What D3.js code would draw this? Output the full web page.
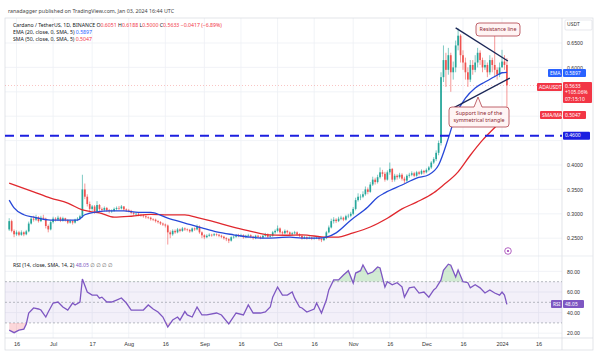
<!DOCTYPE html>
<html>
<head>
<meta charset="utf-8">
<script src="https://cdn.jsdelivr.net/npm/d3@7"></script>
<style>
  body { margin: 0; background: #fff; }
  svg { display: block; font-family: "Noto Sans", "DejaVu Sans", sans-serif; }
</style>
</head>
<body>
<div id="chart"></div>
<script>
// ADA/USDT daily, 2023-06-13 .. 2024-01-03 (open = previous close)
const startDate = "2023-06-13";
const firstOpen = 0.268;
const closes = [
  .285,.265,.258,.262,.257,.262,.258,.264,.280,.290,
  .288,.293,.285,.292,.290,.275,.268,.283,.290,.288,
  .292,.286,.291,.287,.282,.285,.282,.288,.290,.295,
  .350,.335,.320,.310,.315,.305,.318,.310,.308,.312,
  .307,.305,.306,.310,.312,.311,.315,.309,.307,.306,
  .302,.300,.300,.298,.297,.295,.293,.292,.289,.288,
  .285,.283,.280,.278,.276,.262,.258,.265,.262,.268,
  .265,.270,.268,.267,.264,.270,.268,.274,.262,.256,
  .252,.255,.257,.256,.258,.257,.255,.253,.250,.248,
  .245,.252,.253,.256,.255,.256,.252,.255,.256,.253,
  .250,.255,.253,.251,.255,.258,.253,.255,.262,.265,
  .270,.262,.260,.265,.262,.258,.260,.262,.258,.255,
  .250,.252,.250,.251,.249,.250,.251,.248,.246,.250,
  .262,.272,.285,.288,.285,.290,.292,.288,.295,.296,
  .300,.310,.328,.335,.335,.340,.350,.345,.360,.370,
  .365,.375,.385,.382,.370,.385,.392,.370,.378,.375,
  .380,.372,.368,.378,.380,.383,.378,.385,.382,.388,
  .385,.390,.395,.405,.412,.425,.445,.580,.615,.595,
  .625,.590,.600,.645,.665,.625,.610,.590,.575,.605,
  .595,.610,.630,.615,.600,.605,.590,.615,.605,.595,
  .585,.600,.612,.6051,.5633
];
const highs = [
  .291,.288,.268,.266,.265,.266,.264,.267,.284,.295,
  .296,.298,.295,.296,.298,.292,.278,.286,.294,.293,
  .296,.294,.294,.292,.289,.288,.287,.290,.293,.298,
  .380,.362,.340,.325,.318,.318,.326,.320,.313,.315,
  .314,.310,.309,.313,.315,.316,.318,.316,.311,.310,
  .308,.304,.303,.302,.300,.299,.297,.295,.294,.291,
  .290,.287,.285,.282,.280,.278,.266,.268,.268,.271,
  .270,.273,.272,.270,.269,.272,.272,.278,.276,.264,
  .258,.258,.260,.259,.261,.260,.259,.257,.255,.252,
  .250,.254,.256,.258,.259,.259,.258,.257,.259,.258,
  .255,.257,.257,.255,.257,.261,.260,.258,.265,.268,
  .276,.272,.265,.268,.267,.264,.263,.265,.264,.260,
  .257,.255,.254,.254,.253,.253,.254,.253,.250,.253,
  .265,.276,.290,.293,.291,.294,.296,.294,.298,.300,
  .304,.314,.333,.342,.340,.346,.356,.354,.365,.376,
  .374,.380,.395,.390,.386,.389,.405,.394,.382,.381,
  .384,.383,.376,.381,.384,.387,.386,.388,.388,.391,
  .390,.393,.398,.408,.416,.430,.450,.590,.645,.630,
  .640,.630,.612,.655,.680,.668,.635,.620,.600,.615,
  .615,.625,.640,.635,.620,.615,.610,.625,.620,.665,
  .600,.610,.636,.625,.6188
];
const lows = [
  .265,.262,.252,.255,.254,.255,.254,.256,.262,.278,
  .284,.285,.282,.283,.287,.270,.262,.266,.280,.284,
  .285,.283,.284,.284,.279,.280,.278,.280,.285,.288,
  .292,.330,.315,.305,.306,.300,.303,.306,.303,.305,
  .304,.301,.302,.304,.307,.308,.309,.306,.304,.303,
  .299,.296,.297,.295,.294,.292,.290,.289,.286,.285,
  .282,.280,.277,.275,.272,.237,.250,.255,.259,.260,
  .262,.263,.265,.264,.261,.262,.265,.266,.259,.250,
  .248,.250,.253,.253,.254,.254,.252,.250,.247,.244,
  .240,.243,.249,.251,.252,.253,.249,.250,.253,.250,
  .247,.248,.250,.248,.249,.253,.250,.251,.253,.259,
  .262,.259,.257,.258,.259,.255,.256,.258,.255,.252,
  .247,.248,.247,.248,.246,.247,.248,.245,.242,.244,
  .248,.260,.270,.280,.281,.283,.287,.285,.286,.291,
  .293,.297,.307,.325,.328,.332,.337,.340,.343,.357,
  .360,.362,.372,.376,.366,.368,.380,.365,.366,.370,
  .372,.368,.363,.365,.374,.377,.375,.376,.379,.380,
  .381,.383,.387,.392,.402,.408,.420,.440,.570,.560,
  .585,.550,.575,.590,.635,.610,.595,.575,.560,.570,
  .585,.590,.600,.605,.590,.595,.580,.585,.590,.580,
  .575,.580,.600,.595,.500
];

// [day index, value]
const emaPoints = [
  [0,.328],[2,.312],[6,.298],[10,.293],[17,.287],[23,.287],[28,.287],[31,.298],[36,.304],
  [41,.306],[47,.306],[53,.303],[58,.303],[65,.291],[72,.281],[79,.271],[85,.263],[92,.257],
  [99,.252],[106,.250],[115,.252],[120,.250],[127,.250],[130,.252],[134,.261],[140,.287],
  [147,.314],[151,.334],[154,.343],[161,.359],[167,.373],[172,.380],[176,.400],[180,.455],
  [183,.502],[187,.537],[191,.558],[195,.570],[200,.584],[202,.589],[204,.5897]
];
const smaPoints = [
  [0,.363],[10,.345],[17,.332],[24,.322],[30,.308],[34,.304],[37,.302],[43,.293],[50,.295],
  [58,.299],[65,.298],[72,.298],[78,.291],[86,.281],[93,.271],[100,.263],[106,.257],[113,.256],
  [120,.257],[130,.252],[134,.252],[141,.261],[148,.273],[155,.291],[161,.310],[167,.324],
  [174,.343],[178,.359],[184,.386],[189,.420],[194,.451],[200,.482],[204,.5047]
];
const rsiPoints = [
  [0,23],[2,20.5],[4,23],[6,24],[7,29],[8,39.6],[10,44.5],[12,43.5],[13,42.5],[15,35.7],
  [16,40.6],[18,49.3],[20,50.3],[22,45.4],[24,42.5],[26,49.3],[27,47.4],[29,50.3],[30,72.6],
  [32,60],[34,57],[36,57],[37,54],[38,55],[40,50.3],[42,50.3],[44,52.2],[46,54.2],[48,49.3],
  [50,42.5],[53,42.5],[55,42.5],[57,47.4],[59,43.5],[61,40.6],[63,35.7],[65,26],[67,32.8],
  [69,35.7],[70,32.8],[72,41],[73,37.7],[75,35.7],[77,45.4],[79,37.7],[81,37.7],[85,39.6],
  [87,37.7],[90,29],[93,39.6],[96,37.7],[98,47.4],[100,39.6],[103,39.6],[105,40.6],[107,45.4],
  [108,55],[110,64.8],[112,57],[114,57],[116,60],[117,54],[119,45.4],[120,44.5],[122,40.6],
  [125,43.5],[126,49.3],[128,39.6],[130,52.2],[131,62],[133,71.7],[135,71.7],[137,76.5],
  [139,80.7],[141,68.7],[142,78.4],[144,80.7],[145,86.2],[147,77.5],[149,79.4],[151,84.3],
  [152,83.3],[154,64.8],[155,70],[157,67],[159,69],[161,65],[162,55],[164,64],[166,65],
  [168,59],[170,60],[172,55],[174,62],[175,64],[177,71.7],[178,81],[180,87],[181,86],
  [183,74.6],[184,81.4],[186,70],[188,69],[189,64],[191,67],[193,64],[195,59],[197,62],
  [199,59],[201,57],[202,60],[203,57],[204,48.05]
];

const priceTicks = [0.25, 0.30, 0.35, 0.40, 0.45, 0.50, 0.55, 0.60, 0.65];
// labels for 0.45 / 0.50 / 0.55 sit under the price tags, so they are not drawn
const priceLabelTicks = [0.25, 0.30, 0.35, 0.40, 0.60, 0.65];
const rsiTicks = [20, 40, 60, 80];
const timeTicks = ["2023-06-16","2023-07-01","2023-07-17","2023-08-01","2023-08-16","2023-09-01",
  "2023-09-16","2023-10-01","2023-10-16","2023-11-01","2023-11-16","2023-12-01","2023-12-16",
  "2024-01-01","2024-01-16"];
const timeLabels = ["16","Jul","17","Aug","16","Sep","16","Oct","16","Nov","16","Dec","16","2024","16"];

const keyLevel = 0.46;
const resistanceLine = [[183, 0.681], [204.4, 0.613]];
const supportLine = [[180.6, 0.513], [205.2, 0.578]];

const UP = "#26a69a", DOWN = "#ef5350";
const W = 600, H = 354;
const box = {left: 5, right: 562, top: 18, mainBottom: 256, rsiBottom: 338, bottom: 350};

const t0 = new Date(startDate + "T00:00:00Z");
const day = i => new Date(t0.getTime() + i * 864e5);

const candles = closes.map((c, i) => ({
    date: day(i),
    open: i ? closes[i - 1] : firstOpen,
    high: highs[i], low: lows[i], close: c
}));

const svg = d3.select("#chart").append("svg")
    .attr("width", W).attr("height", H);

const x = d3.scaleUtc()
    .domain([day(0), day(closes.length - 1)])
    .range([9.2, 506.9]);
const y = d3.scaleLinear().domain([0.25, 0.65]).range([238.2, 43.0]);
const yR = d3.scaleLinear().domain([20, 80]).range([333.2, 271.4]);

const defs = svg.append("defs");
defs.append("clipPath").attr("id", "clipMain").append("rect")
    .attr("x", box.left).attr("y", box.top)
    .attr("width", box.right - box.left).attr("height", box.mainBottom - box.top);
defs.append("clipPath").attr("id", "clipRsi").append("rect")
    .attr("x", box.left).attr("y", box.mainBottom)
    .attr("width", box.right - box.left).attr("height", box.rsiBottom - box.mainBottom);
defs.append("clipPath").attr("id", "clipOB").append("rect")
    .attr("x", box.left).attr("y", box.mainBottom)
    .attr("width", box.right - box.left).attr("height", yR(70) - box.mainBottom);
defs.append("clipPath").attr("id", "clipOS").append("rect")
    .attr("x", box.left).attr("y", yR(30))
    .attr("width", box.right - box.left).attr("height", box.rsiBottom - yR(30));

// header
svg.append("text")
    .attr("x", 8).attr("y", 13)
    .attr("font-size", 5.3).attr("fill", "#444")
    .text("ranadagger published on TradingView.com, Jan 03, 2024 16:44 UTC");

// grid
const tickDates = timeTicks.map(d => new Date(d + "T00:00:00Z"));
svg.append("g").selectAll("line")
    .data(tickDates).enter().append("line")
    .attr("x1", d => x(d)).attr("x2", d => x(d))
    .attr("y1", box.top).attr("y2", box.rsiBottom)
    .attr("stroke", "#eef0f5").attr("stroke-width", 0.8);
svg.append("g").selectAll("line")
    .data(priceTicks).enter().append("line")
    .attr("x1", box.left).attr("x2", box.right)
    .attr("y1", d => y(d)).attr("y2", d => y(d))
    .attr("stroke", "#eef0f5").attr("stroke-width", 0.8);
svg.append("g").selectAll("line")
    .data(rsiTicks).enter().append("line")
    .attr("x1", box.left).attr("x2", box.right)
    .attr("y1", d => yR(d)).attr("y2", d => yR(d))
    .attr("stroke", "#eef0f5").attr("stroke-width", 0.8);

// frame
svg.append("rect")
    .attr("x", box.left).attr("y", box.top)
    .attr("width", W - 7 - box.left).attr("height", box.bottom - box.top)
    .attr("fill", "none").attr("stroke", "#d6d9e0").attr("stroke-width", 0.7);
svg.append("line").attr("x1", box.right).attr("x2", box.right)
    .attr("y1", box.top).attr("y2", box.bottom)
    .attr("stroke", "#d6d9e0").attr("stroke-width", 0.7);
svg.append("line").attr("x1", box.left).attr("x2", W - 7)
    .attr("y1", box.mainBottom).attr("y2", box.mainBottom)
    .attr("stroke", "#e3e6ec").attr("stroke-width", 0.7);
svg.append("line").attr("x1", box.left).attr("x2", W - 7)
    .attr("y1", box.rsiBottom).attr("y2", box.rsiBottom)
    .attr("stroke", "#d6d9e0").attr("stroke-width", 0.7);

// main pane
const main = svg.append("g").attr("clip-path", "url(#clipMain)");

main.append("line")
    .attr("x1", box.left).attr("x2", box.right)
    .attr("y1", y(0.5633)).attr("y2", y(0.5633))
    .attr("stroke", DOWN).attr("stroke-width", 0.6)
    .attr("stroke-dasharray", "1,2").attr("opacity", 0.7);

const cg = main.append("g");
cg.selectAll(".wick")
    .data(candles).enter().append("line")
    .attr("class", "wick")
    .attr("x1", d => x(d.date)).attr("x2", d => x(d.date))
    .attr("y1", d => y(d.high)).attr("y2", d => y(d.low))
    .attr("stroke", d => d.close >= d.open ? UP : DOWN)
    .attr("stroke-width", 0.6);
cg.selectAll(".body")
    .data(candles).enter().append("rect")
    .attr("class", "body")
    .attr("x", d => x(d.date) - 0.85)
    .attr("width", 1.7)
    .attr("y", d => y(Math.max(d.open, d.close)))
    .attr("height", d => Math.max(0.6, Math.abs(y(d.open) - y(d.close))))
    .attr("fill", d => d.close >= d.open ? UP : DOWN);

const maLine = d3.line()
    .x(d => x(day(d[0])))
    .y(d => y(d[1]))
    .curve(d3.curveMonotoneX);

main.append("path")
    .datum(smaPoints)
    .attr("d", maLine)
    .attr("fill", "none").attr("stroke", "#e0282e").attr("stroke-width", 1.3);
main.append("path")
    .datum(emaPoints)
    .attr("d", maLine)
    .attr("fill", "none").attr("stroke", "#2748d8").attr("stroke-width", 1.3);

main.append("line")
    .attr("x1", box.left).attr("x2", box.right)
    .attr("y1", y(keyLevel)).attr("y2", y(keyLevel))
    .attr("stroke", "#1c1fe0").attr("stroke-width", 2)
    .attr("stroke-dasharray", "9,6");

// triangle lines
[resistanceLine, supportLine].forEach(l => {
    main.append("line")
        .attr("x1", x(day(l[0][0]))).attr("y1", y(l[0][1]))
        .attr("x2", x(day(l[1][0]))).attr("y2", y(l[1][1]))
        .attr("stroke", "#1b2757").attr("stroke-width", 1.3);
});

// callouts
function callout(bx, by, bw, bh, lines, tip) {
    const g = svg.append("g");
    let d = `M${bx + 3},${by} `;
    if (tip) d += `L${tip[0] - 4},${by} L${tip[0]},${tip[1]} L${tip[0] + 4},${by} `;
    d += `L${bx + bw - 3},${by} Q${bx + bw},${by} ${bx + bw},${by + 3} L${bx + bw},${by + bh - 3} ` +
         `Q${bx + bw},${by + bh} ${bx + bw - 3},${by + bh} L${bx + 3},${by + bh} ` +
         `Q${bx},${by + bh} ${bx},${by + bh - 3} L${bx},${by + 3} Q${bx},${by} ${bx + 3},${by}Z`;
    g.append("path").attr("d", d)
        .attr("fill", "#fff4f4").attr("stroke", "#b0404a").attr("stroke-width", 0.8);
    lines.forEach((s, i) => {
        g.append("text")
            .attr("x", bx + bw / 2).attr("y", by + 7.5 + i * 7)
            .attr("text-anchor", "middle")
            .attr("font-size", 5.3).attr("fill", "#8c2530")
            .text(s);
    });
}
callout(476, 23, 44, 13, ["Resistance line"]);
callout(449, 107, 60, 20, ["Support line of the", "symmetrical triangle"], [478, 97]);

// event icon
svg.append("circle").attr("cx", 508).attr("cy", 251).attr("r", 3.3)
    .attr("fill", "#fff").attr("stroke", "#a03cb4").attr("stroke-width", 0.8);
svg.append("circle").attr("cx", 508).attr("cy", 251).attr("r", 1.1).attr("fill", "#a03cb4");

// rsi pane
const rsi = svg.append("g").attr("clip-path", "url(#clipRsi)");
rsi.append("rect")
    .attr("x", box.left).attr("width", box.right - box.left)
    .attr("y", yR(70)).attr("height", yR(30) - yR(70))
    .attr("fill", "#7e57c2").attr("opacity", 0.09);
[70, 50, 30].forEach(v => {
    rsi.append("line")
        .attr("x1", box.left).attr("x2", box.right)
        .attr("y1", yR(v)).attr("y2", yR(v))
        .attr("stroke", "#8a8e99").attr("stroke-width", 0.6)
        .attr("stroke-dasharray", "2,2");
});
rsi.append("path")
    .datum(rsiPoints)
    .attr("clip-path", "url(#clipOB)")
    .attr("d", d3.area().x(d => x(day(d[0]))).y0(yR(70)).y1(d => yR(d[1])))
    .attr("fill", "#4caf50").attr("opacity", 0.25);
rsi.append("path")
    .datum(rsiPoints)
    .attr("clip-path", "url(#clipOS)")
    .attr("d", d3.area().x(d => x(day(d[0]))).y0(yR(30)).y1(d => yR(d[1])))
    .attr("fill", "#f23645").attr("opacity", 0.2);
rsi.append("path")
    .datum(rsiPoints)
    .attr("d", d3.line().x(d => x(day(d[0]))).y(d => yR(d[1])))
    .attr("fill", "none").attr("stroke", "#7e57c2").attr("stroke-width", 1.3);

// axes
const xAxis = svg.append("g")
    .attr("transform", `translate(0, ${box.rsiBottom + 2})`)
    .call(d3.axisBottom(x).tickValues(tickDates).tickFormat((d, i) => timeLabels[i]).tickSize(0).tickPadding(2));
xAxis.select(".domain").remove();
xAxis.selectAll("text").attr("font-size", 5.5).attr("fill", "#333").attr("font-family", null);

const pAxis = svg.append("g")
    .attr("transform", `translate(${box.right}, 0)`)
    .call(d3.axisRight(y).tickValues(priceLabelTicks).tickFormat(d3.format(".4f")).tickSize(0).tickPadding(5));
pAxis.select(".domain").remove();
pAxis.selectAll("text").attr("font-size", 5.2).attr("fill", "#333").attr("font-family", null);

const rAxis = svg.append("g")
    .attr("transform", `translate(${box.right}, 0)`)
    .call(d3.axisRight(yR).tickValues(rsiTicks).tickFormat(d3.format(".2f")).tickSize(0).tickPadding(5));
rAxis.select(".domain").remove();
rAxis.selectAll("text").attr("font-size", 5.2).attr("fill", "#333").attr("font-family", null);

// price tags
function tag(tx, ty, tw, th, fill, lines, color, stroke) {
    const g = svg.append("g");
    g.append("rect").attr("x", tx).attr("y", ty).attr("width", tw).attr("height", th)
        .attr("rx", 1).attr("fill", fill)
        .attr("stroke", stroke || "none").attr("stroke-width", 0.6);
    lines.forEach((s, i) => {
        g.append("text")
            .attr("x", tx + 2).attr("y", ty + 5.6 + i * 6.6)
            .attr("font-size", 5).attr("fill", color || "#fff")
            .text(s);
    });
}
tag(565, 20, 27, 10, "#fff", ["USDT"], "#333", "#d6d9e0");
tag(548, 69, 14, 8, "#2962ff", ["EMA"]);
tag(563, 69, 23, 8, "#2962ff", ["0.5897"]);
tag(537, 83, 25, 8, "#f23645", ["ADAUSDT"]);
tag(563, 82, 29, 21, "#f23645", ["0.5633", "+105.06%", "07:15:10"]);
tag(540, 111, 22, 8, "#f23645", ["SMA/MA"]);
tag(563, 111, 23, 8, "#f23645", ["0.5047"]);
tag(563, y(keyLevel) - 4, 27, 8, "#1c1fe0", ["0.4600"]);
tag(551, 300, 11, 8, "#7e57c2", ["RSI"]);
tag(563, 300, 21, 8, "#7e57c2", ["48.05"]);

// legends
const leg = svg.append("g").attr("font-size", 5.2).attr("fill", "#131722");
const l1 = leg.append("text").attr("x", 13).attr("y", 26.5);
l1.append("tspan").text("Cardano / TetherUS, 1D, BINANCE  ");
[["O", "0.6051"], [" H", "0.6188"], [" L", "0.5000"], [" C", "0.5633"]].forEach(p => {
    l1.append("tspan").text(p[0]);
    l1.append("tspan").attr("fill", "#f23645").text(p[1]);
});
l1.append("tspan").attr("fill", "#f23645").text(" \u22120.0417 (\u22126.89%)");

const l2 = leg.append("text").attr("x", 13).attr("y", 33.8);
l2.append("tspan").text("EMA (20, close, 0, SMA, 5) ");
l2.append("tspan").attr("fill", "#2962ff").text("0.5897");
const l3 = leg.append("text").attr("x", 13).attr("y", 41.1);
l3.append("tspan").text("SMA (50, close, 0, SMA, 5) ");
l3.append("tspan").attr("fill", "#f23645").text("0.5047");

const l4 = leg.append("text").attr("x", 13).attr("y", 266.5);
l4.append("tspan").text("RSI (14, close, SMA, 14, 2) ");
l4.append("tspan").attr("fill", "#7e57c2").text("48.05");
l4.append("tspan").attr("fill", "#666").text("  \u2205  \u2205  \u2205  \u2205");
</script>
</body>
</html>
